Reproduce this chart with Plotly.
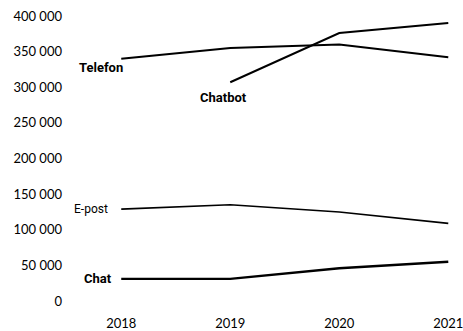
import plotly.graph_objects as go

years = [2018, 2019, 2020, 2021]
telefon = [340000, 355000, 360000, 342000]
chatbot = [None, 307000, 376000, 390000]
epost = [129000, 135000, 125000, 109000]
chat = [31000, 31000, 46000, 55000]
y_ticks = [0, 50000, 100000, 150000, 200000, 250000, 300000, 350000, 400000]
y_tick_labels = ["0", "50 000", "100 000", "150 000", "200 000", "250 000", "300 000", "350 000", "400 000"]

fig = go.Figure()
for name, vals, w in [("Telefon", telefon, 2), ("Chatbot", chatbot, 2), ("E-post", epost, 1.6), ("Chat", chat, 2.4)]:
    fig.add_trace(go.Scatter(x=years, y=vals, mode="lines", name=name,
                             line=dict(color="black", width=w), connectgaps=False))

ann = [
    ("Telefon", 2018.03, 327700, "right", True),
    ("Chatbot", 2018.94, 286300, "center", True),
    ("E-post", 2017.9, 129000, "right", False),
    ("Chat", 2017.93, 31000, "right", True),
]
for text, x, y, xa, bold in ann:
    fig.add_annotation(x=x, y=y, text=f"<b>{text}</b>" if bold else text, showarrow=False,
                       xanchor=xa, yanchor="middle",
                       font=dict(family="Roboto", size=13 if bold else 12, color="black"))

fig.update_layout(
    width=463, height=331,
    margin=dict(l=70, r=0, t=8, b=21),
    paper_bgcolor="white", plot_bgcolor="white",
    showlegend=False,
    font=dict(family="Lato", size=13, color="black"),
    xaxis=dict(range=[2017.53, 2021.135], tickvals=years, ticktext=[str(y) for y in years],
               showgrid=False, zeroline=False, showline=False, ticks="", automargin=False,
               ticklabelstandoff=4, ticklabeloverflow="allow"),
    yaxis=dict(range=[-12632, 411228], tickvals=y_ticks, ticktext=y_tick_labels,
               showgrid=False, zeroline=False, showline=False, ticks="", automargin=False,
               ticklabelstandoff=7),
)
fig.write_html("out.html", config={"displayModeBar": False},
               post_script="document.body.style.margin='0';")
